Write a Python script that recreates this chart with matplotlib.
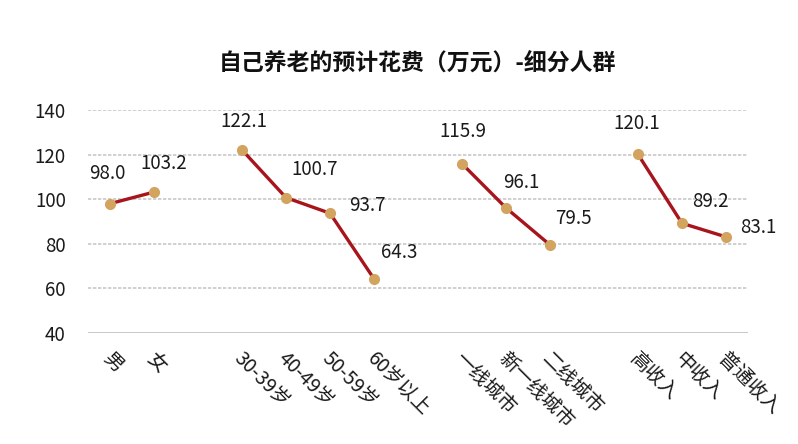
import matplotlib
matplotlib.use("Agg")
import matplotlib.pyplot as plt
from matplotlib import transforms

plt.rcParams['font.family'] = ['Noto Sans CJK SC', 'DejaVu Sans']

# ---- data ----
groups = [
    ["男", "女"],
    ["30-39岁", "40-49岁", "50-59岁", "60岁以上"],
    ["一线城市", "新一线城市", "二线城市"],
    ["高收入", "中收入", "普通收入"],
]
group_values = [
    [98.0, 103.2],
    [122.1, 100.7, 93.7, 64.3],
    [115.9, 96.1, 79.5],
    [120.1, 89.2, 83.1],
]
title = "自己养老的预计花费（万元）-细分人群"
yticks = [40, 60, 80, 100, 120, 140]

# label offsets in pixels (layout only)
label_offsets = [
    [(-3, 30), (10, 29)],
    [(2, 28), (29, 28), (37, 8), (25, 26)],
    [(1, 32), (15, 25), (23, 26)],
    [(-1, 31), (28, 22), (32, 9)],
]

W, H = 798, 444
fig = plt.figure(figsize=(W / 100, H / 100), dpi=100)
ax = fig.add_axes([88 / W, 1 - 333 / H, (748 - 88) / W, (333 - 110) / H])

line_color = "#A8141C"
marker_color = "#D2A460"
text_color = "#1a1a1a"

pos = 0
xt, xl = [], []
for gi, (cats, vals) in enumerate(zip(groups, group_values)):
    xs = list(range(pos, pos + len(cats)))
    ax.plot(xs, vals, color=line_color, lw=2.4, zorder=3,
            marker="o", markersize=7, markerfacecolor=marker_color,
            markeredgecolor=marker_color)
    for x, v, (dx, dy) in zip(xs, vals, label_offsets[gi]):
        ax.annotate(f"{v:.1f}", (x, v), xytext=(dx * 0.72, dy * 0.72),
                    textcoords="offset points", ha="center", va="center",
                    fontsize=13.5, color=text_color, zorder=4)
    xt += xs
    xl += cats
    pos += len(cats) + 1

ax.set_xlim(-0.5, 14.5)
ax.set_ylim(40, 140)
ax.set_yticks(yticks)
ax.set_yticklabels([str(t) for t in yticks], fontsize=13.5, color=text_color)
ax.set_xticks(xt)
ax.set_xticklabels(xl, fontsize=14, color=text_color, rotation=-45,
                   ha="left", va="top", rotation_mode="anchor")
ax.tick_params(axis="both", length=0)
ax.tick_params(axis="y", pad=16)
ax.tick_params(axis="x", pad=11)
offset = transforms.ScaledTranslation(3 / 100, 0, fig.dpi_scale_trans)
for lbl in ax.get_xticklabels():
    lbl.set_transform(lbl.get_transform() + offset)

for s in ax.spines.values():
    s.set_visible(False)
for t in yticks:
    if t == 40:
        ax.axhline(t, color="#BFBFBF", lw=1.2, zorder=1)
    else:
        ax.axhline(t, color="#C8C8C8", lw=1.2, ls=(0, (2, 1)), zorder=1)

fig.text(417 / W, 1 - 63 / H, title, ha="center", va="center",
         fontsize=16.5, fontweight="bold", color="#111111")

fig.savefig("out.png", dpi=100, facecolor="white")
